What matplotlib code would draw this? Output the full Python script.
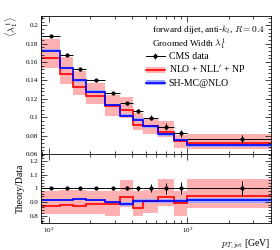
import numpy as np
import matplotlib
matplotlib.use("Agg")
import matplotlib.pyplot as plt
from matplotlib.patches import Patch
from matplotlib.lines import Line2D
from matplotlib.legend_handler import HandlerTuple
from matplotlib.ticker import FuncFormatter, MultipleLocator

plt.rcParams['font.family'] = ['Liberation Serif', 'DejaVu Serif']
plt.rcParams['mathtext.fontset'] = 'cm'

# pT bin edges (GeV)
edges = [88, 120, 150, 186, 254, 326, 408, 481, 614, 800, 1000, 4000]

# CMS data: groomed width <lambda_1^1>
cms = [0.1886, 0.1678, 0.1522, 0.1399, 0.1263, 0.1149, 0.1071, 0.0995, 0.0897, 0.0825, 0.0760]
cms_err = [0.0015, 0.0015, 0.0015, 0.0013, 0.0013, 0.0015, 0.0021, 0.0030, 0.0035, 0.0037, 0.0042]

# NLO + NLL' + NP with uncertainty band
nlo = [0.1641, 0.1468, 0.1324, 0.1234, 0.1118, 0.1073, 0.0918, 0.0900, 0.0841, 0.0738, 0.0715]
nlo_lo = [0.1537, 0.1359, 0.1240, 0.1140, 0.1010, 0.0994, 0.0857, 0.0816, 0.0780, 0.0660, 0.0650]
nlo_hi = [0.1848, 0.1653, 0.1499, 0.1371, 0.1238, 0.1218, 0.1050, 0.0985, 0.0955, 0.0809, 0.0813]

# SH-MC@NLO
sh = [0.1724, 0.1534, 0.1402, 0.1279, 0.1133, 0.1017, 0.0971, 0.0902, 0.0814, 0.0748, 0.0693]
sh_err = [0.0015] * 11
# value of the bin just below 88 GeV, only its edge shows at the left spine
sh_below = 0.200

red = '#ff0000'
pink = '#ffb0b0'
blue = '#0000ff'
lblue = '#9fa8ff'

edges = np.array(edges)
cms = np.array(cms)
cms_err = np.array(cms_err)
nlo, nlo_lo, nlo_hi = np.array(nlo), np.array(nlo_lo), np.array(nlo_hi)
sh, sh_err = np.array(sh), np.array(sh_err)
centers = 0.5 * (edges[:-1] + edges[1:])
xerr = [centers - edges[:-1], edges[1:] - centers]

fig = plt.figure(figsize=(2.8, 2.5), dpi=100)
ax = fig.add_axes([0.1464, 0.384, 0.820, 0.552])
rx = fig.add_axes([0.1464, 0.110, 0.820, 0.274], sharex=ax)


def draw(a, d, n, nl, nh, s, se, de):
    a.stairs(nh, edges, baseline=nl, fill=True, color=pink, lw=0)
    a.stairs(s + se, edges, baseline=s - se, fill=True, color=lblue, lw=0)
    a.stairs(n, edges, baseline=None, color=red, lw=1.2)
    a.stairs(s, edges, baseline=None, color=blue, lw=1.2)
    a.errorbar(centers, d, xerr=xerr, yerr=de, fmt='o', ms=2, color='k',
               lw=0.7, capsize=0, zorder=5)


draw(ax, cms, nlo, nlo_lo, nlo_hi, sh, sh_err, cms_err)
ax.plot([edges[0], edges[0]], [sh[0], sh_below], color=blue, lw=1.2)

# ratio panel: theory / data
draw(rx, np.ones_like(cms), nlo / cms, nlo_lo / cms, nlo_hi / cms,
     sh / cms, sh_err / cms, cms_err / cms)

ax.set_xscale('log')
ax.set_xlim(88, 4000)
ax.set_ylim(0.06, 0.21)
rx.set_ylim(0.75, 1.25)

fmt = FuncFormatter(lambda v, p: '%g' % round(v, 3))
ax.yaxis.set_major_locator(MultipleLocator(0.02))
ax.yaxis.set_minor_locator(MultipleLocator(0.004))
ax.yaxis.set_major_formatter(fmt)
rx.yaxis.set_major_locator(MultipleLocator(0.1))
rx.yaxis.set_minor_locator(MultipleLocator(0.02))
rx.yaxis.set_major_formatter(fmt)

for a in (ax, rx):
    a.tick_params(which='both', direction='in', top=True, right=True,
                  labelsize=5, width=0.5, pad=2)
    a.tick_params(which='major', length=4)
    a.tick_params(which='minor', length=2)
    for sp in a.spines.values():
        sp.set_linewidth(0.6)
ax.tick_params(labelbottom=False)

ax.set_ylabel(r'$\langle\lambda_1^1\rangle$', fontsize=7, loc='top', labelpad=4)
rx.set_ylabel('Theory/Data', fontsize=7, labelpad=3)
rx.set_xlabel(r'$p_{T,\mathrm{jet}}$ [GeV]', fontsize=7, loc='right', labelpad=2)

ax.text(0.975, 0.845, 'forward dijet, anti-$k_t$, $R = 0.4$\nGroomed Width $\\lambda_1^1$',
        transform=ax.transAxes, ha='right', va='center', fontsize=6.7,
        multialignment='left', linespacing=1.05)

h_cms = Line2D([], [], color='k', marker='o', ms=2, lw=0.7)
h_cms_bar = Line2D([], [], color='k', marker='|', ms=5, mew=0.7, lw=0)
h_nlo = (Patch(color=pink, lw=0), Line2D([], [], color=red, lw=1.2))
h_sh = (Patch(color=lblue, lw=0), Line2D([], [], color=blue, lw=1.2))
ax.legend([(h_cms, h_cms_bar), h_nlo, h_sh],
          ['CMS data', r"NLO + NLL$'$ + NP", 'SH-MC@NLO'],
          handler_map={tuple: HandlerTuple(ndivide=1, pad=0)},
          loc='upper left', bbox_to_anchor=(0.45, 0.755), frameon=False,
          fontsize=7, handlelength=1.9, handleheight=0.45, handletextpad=0.4,
          labelspacing=0.35, borderaxespad=0, borderpad=0.2)

fig.savefig('out.png', dpi=100)
